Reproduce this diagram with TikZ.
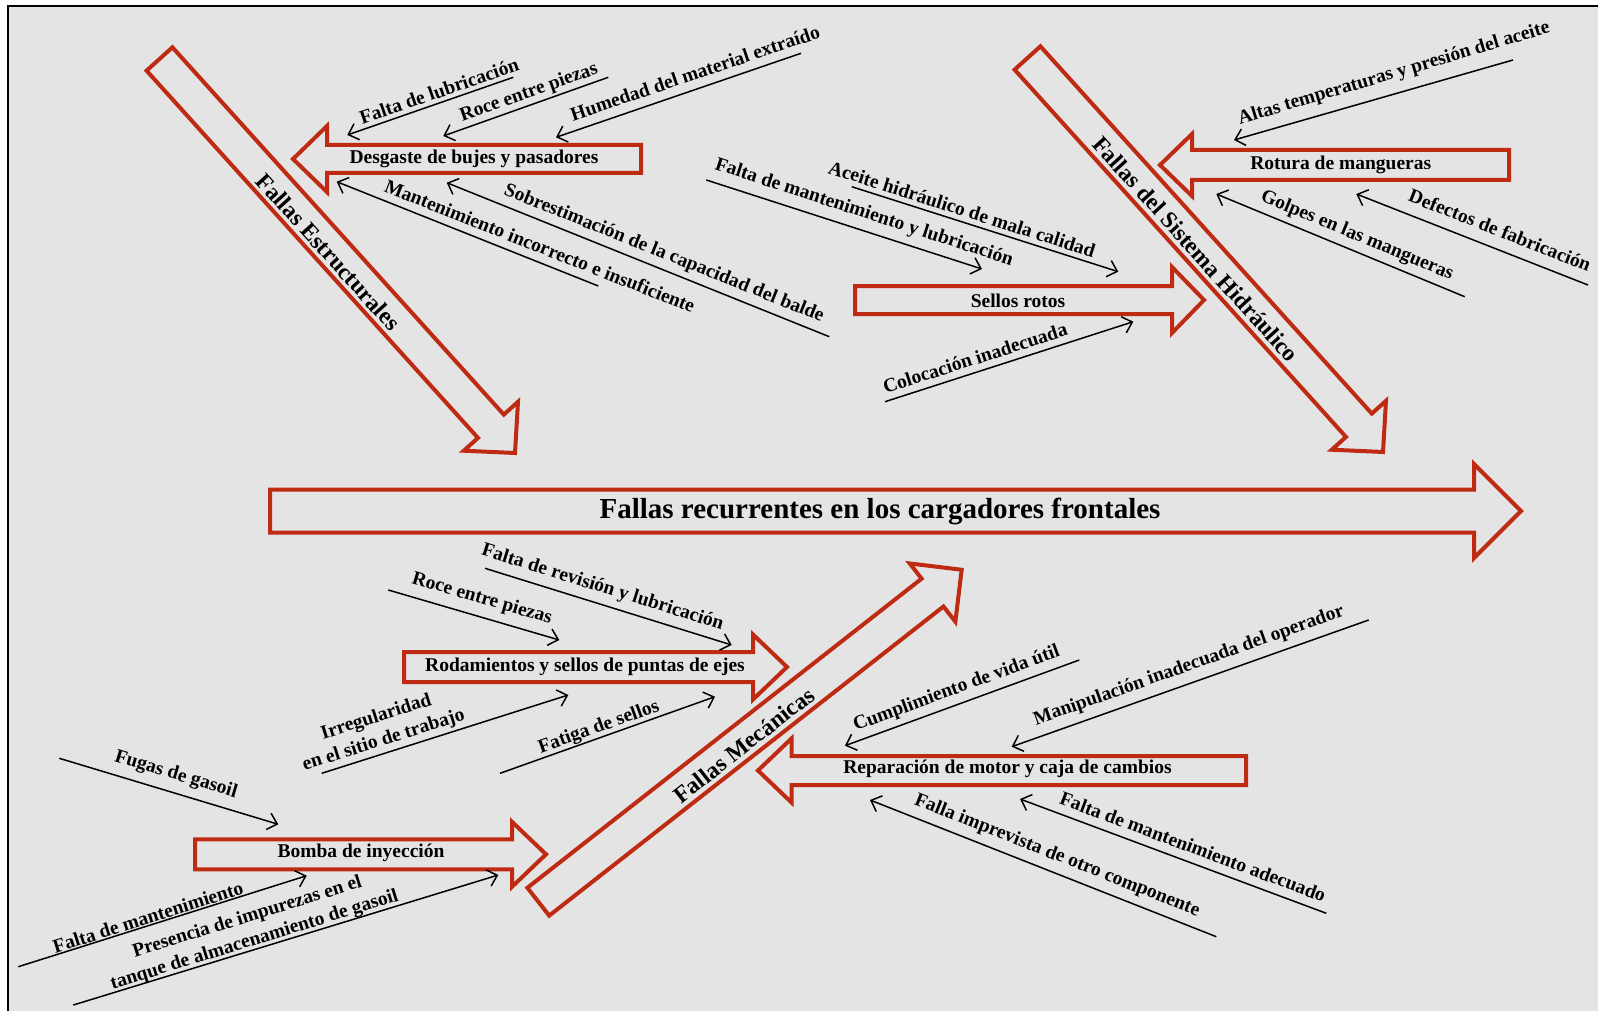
\documentclass[tikz,border=0pt]{standalone}
\usepackage{fontspec}
\setmainfont{Liberation Serif}
\usetikzlibrary{arrows.meta}

\definecolor{bgc}{HTML}{E4E4E4}
\definecolor{redc}{RGB}{190,42,18}

\tikzset{
  bigarrow/.style={draw=redc, line width=4pt, line join=miter},
  causeline/.style={draw=black, line width=1.5pt,
    -{Straight Barb[length=9pt,width=17pt,line width=1.5pt]}},
  causetext/.style={font=\fontsize{19.5}{24}\selectfont\bfseries, inner sep=0pt, align=center},
  boxtext/.style={font=\fontsize{19.5}{24}\selectfont\bfseries, inner sep=0pt},
  cattext/.style={font=\fontsize{23.5}{28}\selectfont\bfseries, inner sep=0pt},
  titletext/.style={font=\fontsize{29}{34}\selectfont\bfseries, inner sep=0pt},
}

% block arrow: #1 name, #2 tail centre, #3 direction (degrees, clockwise),
% #4 length, #5 shaft half width, #6 head half width, #7 head length
\newcommand{\blockarrow}[7]{%
  \begin{scope}[shift={(#2)}, rotate={-1*(#3)}]
    \draw[bigarrow] (0,-#5) -- ({#4-#7},-#5) -- ({#4-#7},-#6) -- (#4,0)
      -- ({#4-#7},#6) -- ({#4-#7},#5) -- (0,#5) -- cycle;
    \coordinate (#1-tip) at (#4,0);
  \end{scope}}

% cause: #1 name, #2 free end, #3 arrow tip, #4 label centre, #5 label angle, #6 text
\newcommand{\cause}[6]{%
  \coordinate (#1-s) at (#2);
  \coordinate (#1-t) at (#3);
  \draw[causeline] (#1-s) -- (#1-t);
  \node[causetext, rotate=#5] (#1) at (#4) {#6};}

\begin{document}
\begin{tikzpicture}[x=1pt, y=-1pt]
  \useasboundingbox (0,0) rectangle (1598,1011);
  \fill[white] (0,0) rectangle (1598,1011);
  \fill[bgc] (8,6) rectangle (1600,1013);
  \draw[black, line width=2pt] (8,1013) -- (8,6) -- (1600,6);

  % main spine
  \blockarrow{spine}{270,511}{0}{1251}{21.5}{47}{47}
  \node[titletext] (title) at (880,511) {Fallas recurrentes en los cargadores frontales};

  % category arrows
  \blockarrow{estr}{159.5,59}{47.94}{530.7}{17.4}{36.5}{36}
  \node[cattext, rotate=-47.9] (estrl) at (328.5,252) {Fallas Estructurales};

  \blockarrow{hidr}{1027.5,58}{47.94}{530.7}{17.4}{36.5}{36}
  \node[cattext, rotate=-47.9] (hidrl) at (1195.7,249) {Fallas del Sistema Hidráulico};

  \blockarrow{mec}{538.3,901.7}{-38.1}{538}{17.7}{37}{37}
  \node[cattext, rotate=38.1] (mecl) at (744,745) {Fallas Mecánicas};

  % sub-cause arrows
  \blockarrow{desg}{641,159}{180}{348}{14}{33}{34}
  \node[boxtext] (desgl) at (474,159) {Desgaste de bujes y pasadores};

  \blockarrow{sell}{855,300}{0}{349}{14}{33}{32}
  \node[boxtext] (selll) at (1018,301) {Sellos rotos};

  \blockarrow{rotu}{1509,165}{180}{349}{15}{31}{32}
  \node[boxtext] (rotul) at (1340.7,165) {Rotura de mangueras};

  \blockarrow{roda}{404,667}{0}{383}{15}{32.5}{34}
  \node[boxtext] (rodal) at (585,667) {Rodamientos y sellos de puntas de ejes};

  \blockarrow{bomb}{195,854.3}{0}{351}{15}{32.5}{34}
  \node[boxtext] (bombl) at (361,853.3) {Bomba de inyección};

  \blockarrow{repa}{1246,770.5}{180}{488}{14.5}{32}{33.5}
  \node[boxtext] (repal) at (1007.5,769) {Reparación de motor y caja de cambios};

  % causes: structural
  \cause{c1}{513.3,77.3}{347.3,135}{439,91}{19}{Falta de lubricación}
  \cause{c2}{608.3,77.3}{443.3,136}{529,93}{19.5}{Roce entre piezas}
  \cause{c3}{801,53.3}{556,137.3}{695,73}{18.6}{Humedad del material extraído}
  \cause{c4}{598.3,286}{336.7,181.7}{540,246}{-21.5}{Mantenimiento incorrecto e insuficiente}
  \cause{c5}{829.3,336.7}{446.7,182.7}{664,254}{-21.8}{Sobrestimación de la capacidad del balde}

  % causes: hydraulic
  \cause{c6}{706.3,180}{982,269}{864,213}{-18}{Falta de mantenimiento y lubricación}
  \cause{c7}{851.7,186.7}{1118.3,271.7}{962,209}{-17.7}{Aceite hidráulico de mala calidad}
  \cause{c8}{885,401.7}{1133.3,321.7}{975,358}{17.9}{Colocación inadecuada}
  \cause{c9}{1513,60}{1234,140}{1394,74}{16.5}{Altas temperaturas y presión del aceite}
  \cause{c10}{1464.7,296.7}{1216.3,194}{1357,236}{-22.5}{Golpes en las mangueras}
  \cause{c11}{1588,285}{1356.3,194}{1500,230}{-21.4}{Defectos de fabricación}

  % causes: mechanical
  \cause{c12}{388.3,590}{559.3,640}{482,599}{-16.3}{Roce entre piezas}
  \cause{c13}{485,568.3}{731.7,645}{602.5,588}{-17.3}{Falta de revisión y lubricación}
  \cause{c14}{321.7,773.3}{568.3,695}{380,729}{17.6}{Irregularidad\\en el sitio de trabajo}
  \cause{c15}{500,773.3}{715,696.7}{599,727.5}{19.6}{Fatiga de sellos}
  \cause{c16}{59.3,758.3}{278.3,824.3}{176,775}{-16.8}{Fugas de gasoil}
  \cause{c17}{18.3,966.7}{306.7,875.7}{148,917}{17.5}{Falta de mantenimiento}
  \cause{c18}{73.3,1005}{498.3,875}{251,929}{17.2}{Presencia de impurezas en el\\tanque de almacenamiento de gasoil}
  \cause{c19}{1079.3,660}{845,745.7}{956.7,689}{20.1}{Cumplimiento de vida útil}
  \cause{c20}{1368.7,620}{1011.7,746.7}{1189,666}{19.5}{Manipulación inadecuada del operador}
  \cause{c21}{1216.3,936.7}{870,800}{1057,856}{-21.5}{Falla imprevista de otro componente}
  \cause{c22}{1326.3,913.3}{1020,799}{1193,846.7}{-20.5}{Falta de mantenimiento adecuado}
\end{tikzpicture}
\end{document}
